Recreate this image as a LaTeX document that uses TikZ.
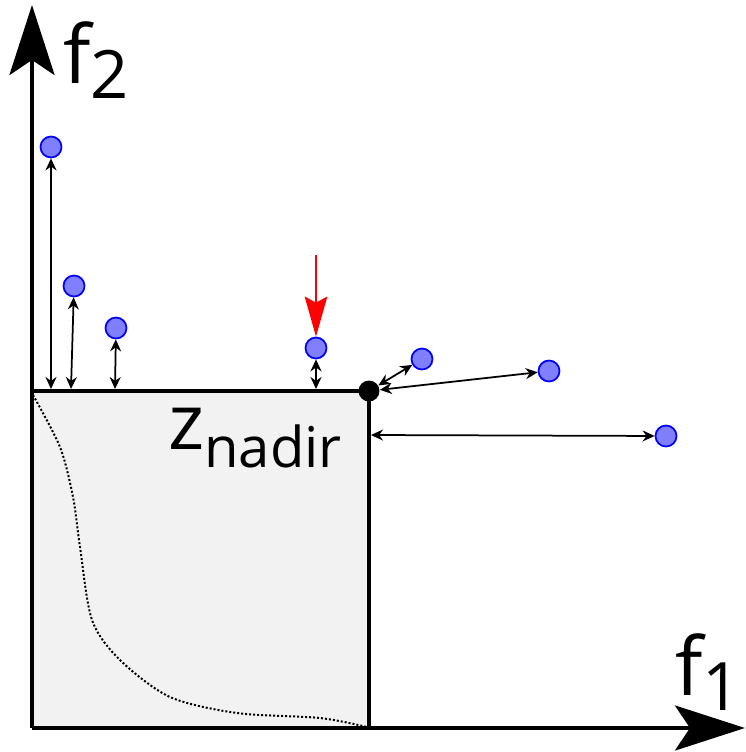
\documentclass[tikz,border=0pt]{standalone}
\usepackage{fontspec}
\setmainfont{Open Sans}
\usepackage{xcolor}
\usepackage{tikz}
\usetikzlibrary{arrows.meta}
\definecolor{pfill}{HTML}{F2F2F2}
\definecolor{pdot}{HTML}{8080FF}

\begin{document}
\begin{tikzpicture}[x=0.02cm, y=-0.02cm, >=Stealth,
  axis/.style={line width=0.08cm, -{Stealth[length=1.4cm, width=0.9cm, inset=0.3cm]}},
  frame/.style={line width=0.08cm},
  sol/.style={circle, draw=blue, fill=pdot, line width=0.035cm,
              minimum size=0.42cm, inner sep=0pt},
  nadir/.style={circle, fill=black, minimum size=0.42cm, inner sep=0pt},
  dist/.style={{Stealth[length=0.24cm, width=0.22cm]}-{Stealth[length=0.24cm, width=0.22cm]},
               line width=0.035cm},
  pick/.style={-{Stealth[length=0.8cm, width=0.45cm, inset=0.12cm]}, line width=0.045cm, draw=red},
  lbl/.style={inner sep=0pt, font=\fontsize{46}{46}\selectfont}]
  \useasboundingbox (0,0) rectangle (746,752);
  % --- dominated region below the nadir point
  \fill[pfill] (32,391) rectangle (369,728);
  \draw[line width=0.04cm, dash pattern=on 0.04cm off 0.04cm] plot[smooth] coordinates
    {(33,395) (60,447) (73,497) (80,547) (92,620) (120,660) (170,697) (237,713) (320,718) (367,727)};
  % --- axes
  \coordinate (o) at (32,728);
  \coordinate (ytip) at (32,5);
  \coordinate (xtip) at (745,728);
  \draw[axis] (o) -- (ytip);
  \draw[axis] (o) -- (xtip);
  \node[lbl] (f2) at (96,60) {f\raisebox{-0.35ex}{\fontsize{38}{38}\selectfont 2}};
  \node[lbl] (f1) at (708,672) {f\raisebox{-0.35ex}{\fontsize{38}{38}\selectfont 1}};
  % --- nadir box
  \draw[frame] (32,391) -- (369,391) -- (369,728);
  \node[nadir] (zn) at (369,391) {};
  \node[inner sep=0pt] (znl) at (255,438)
    {\fontsize{44}{44}\selectfont z\raisebox{-0.45ex}{\fontsize{32}{32}\selectfont nadir}};
  % --- solutions
  \node[sol] (p1) at (51,147) {};
  \node[sol] (p2) at (74,286) {};
  \node[sol] (p3) at (116,328) {};
  \node[sol] (p4) at (316,348) {};
  \node[sol] (p5) at (422,359) {};
  \node[sol] (p6) at (549,371) {};
  \node[sol] (p7) at (666,436) {};
  % --- feet on the box
  \coordinate (b1) at (51,389);
  \coordinate (b2) at (71,389);
  \coordinate (b3) at (115,389);
  \coordinate (b4) at (316,389);
  \coordinate (b7) at (371,435);
  \coordinate (red) at (316,255);
  \draw[dist] (b1) -- (p1);
  \draw[dist] (b2) -- (p2);
  \draw[dist] (b3) -- (p3);
  \draw[dist] (b4) -- (p4);
  \draw[dist] (zn) -- (p5);
  \draw[dist] (zn) -- (p6);
  \draw[dist] (b7) -- (p7);
  \draw[pick] (red) -- (p4.north);
\end{tikzpicture}
\end{document}
